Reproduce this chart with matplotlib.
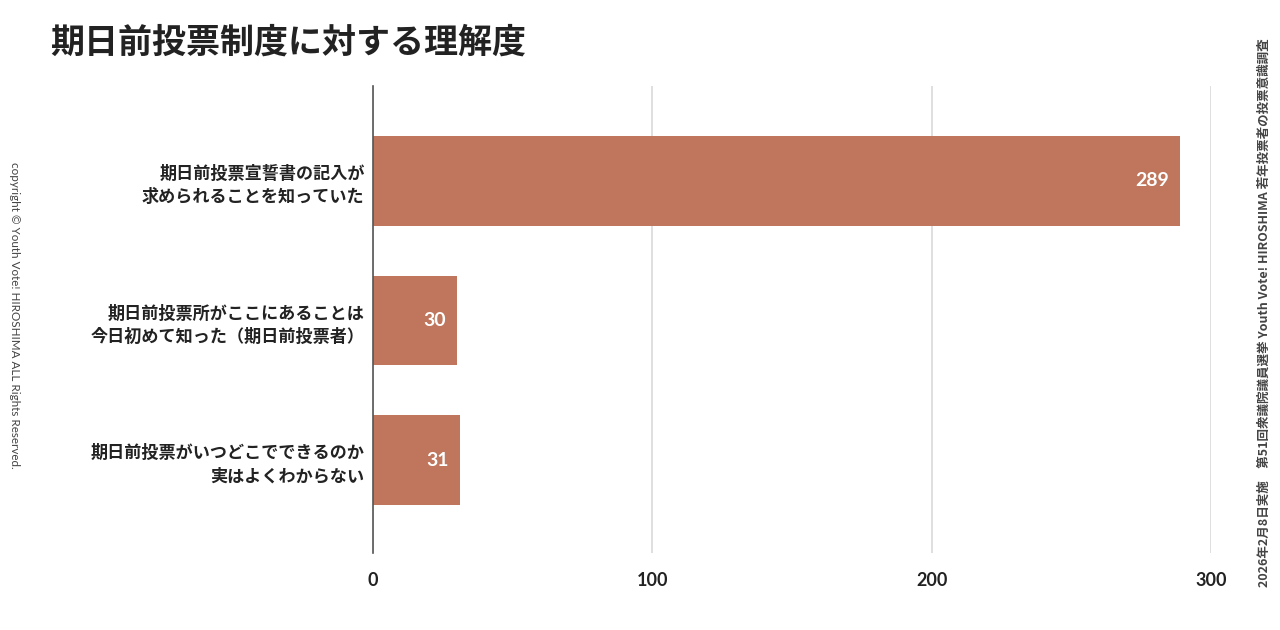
import matplotlib
matplotlib.use('Agg')
import matplotlib.pyplot as plt

plt.rcParams['font.family'] = ['Noto Sans CJK JP', 'DejaVu Sans']

# Data
categories = [
    '期日前投票宣誓書の記入が\n求められることを知っていた',
    '期日前投票所がここにあることは\n今日初めて知った（期日前投票者）',
    '期日前投票がいつどこでできるのか\n実はよくわからない',
]
values = [289, 30, 31]
x_ticks = [0, 100, 200, 300]

title = '期日前投票制度に対する理解度'
copyright_text = 'copyright © Youth Vote! HIROSHIMA ALL Rights Reserved.'
source_text = '2026年2月8日実施　第51回衆議院議員選挙 Youth Vote! HIROSHIMA 若年投票者の投票意識調査'

bar_color = '#bf765c'

fig = plt.figure(figsize=(12.8, 6.3), dpi=100)
ax = fig.add_axes([373 / 1280, 1 - 553 / 630, (1211 - 373) / 1280, (553 - 86) / 630])

pos = list(range(len(categories)))
ax.barh(pos, values, height=0.643, color=bar_color, zorder=3)
for p, v in zip(pos, values):
    ax.annotate(str(v), xy=(v, p), xytext=(-8, 0), textcoords='offset points',
                color='white', ha='right', va='center', fontsize=14,
                fontweight='bold', family=['Lato', 'DejaVu Sans'], zorder=4)

ax.set_xlim(0, 300)
ax.set_ylim(2.665, -0.68)
ax.set_yticks(pos)
ax.set_yticklabels(categories, fontsize=12.3, fontweight='bold', color='#222222',
                   linespacing=1.35, ha='right')
ax.set_xticks(x_ticks)
ax.set_xticklabels([str(t) for t in x_ticks], fontsize=13, fontweight='bold',
                   family=['Lato', 'DejaVu Sans'], color='#222222')
ax.tick_params(axis='x', length=0, pad=14)
ax.tick_params(axis='y', length=0, pad=6)
ax.grid(axis='x', color='#d9d9d9', linewidth=1.2, zorder=0)
for s in ['top', 'right', 'bottom']:
    ax.spines[s].set_visible(False)
ax.spines['left'].set_color('#555555')
ax.spines['left'].set_linewidth(1.2)
ax.spines['left'].set_zorder(5)

fig.text(50 / 1280, 1 - 42 / 630, title, fontsize=24.5, fontweight='bold',
         color='#222222', ha='left', va='center')
fig.text(14 / 1280, 1 - 315 / 630, copyright_text, rotation=270, fontsize=8.4,
         color='#444444', ha='center', va='center', family=['Lato', 'DejaVu Sans'])
fig.text(1264 / 1280, 1 - 313 / 630, source_text, rotation=90, fontsize=9,
         fontweight='bold', color='#444444', ha='center', va='center')

fig.savefig('out.png', dpi=100, facecolor='white')
